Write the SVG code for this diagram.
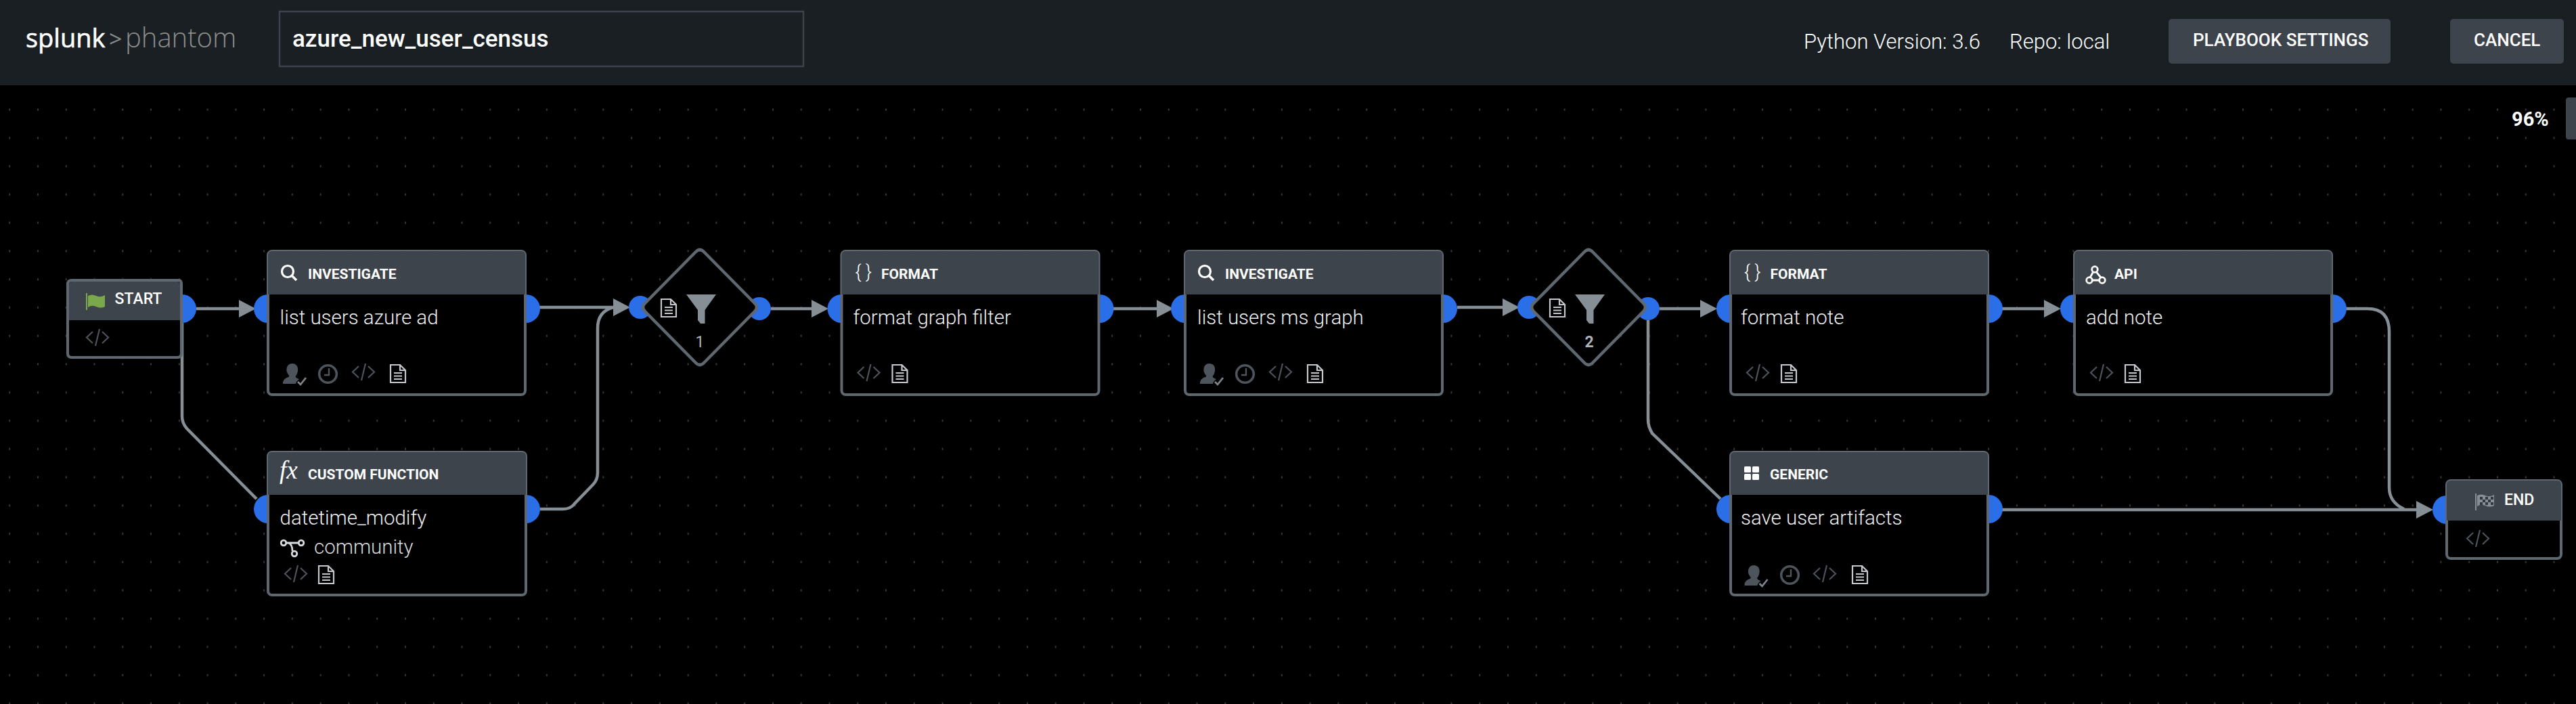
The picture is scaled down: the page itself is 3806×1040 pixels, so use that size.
<svg xmlns="http://www.w3.org/2000/svg" width="3806" height="1040" viewBox="0 0 3806 1040">
<style>
text{font-family:Roboto,"Liberation Sans",sans-serif}
.hd{font-size:21px;font-weight:700;fill:#fff}
.bd{font-size:29.500px;font-weight:300;fill:#eceef0}
.tt{font-size:26px;font-weight:500;fill:#fff}
.logo{font-size:40px;font-family:"Open Sans",sans-serif}
.port{fill:#2b6fe8}
.box{fill:#000;stroke:#5f6771;stroke-width:4}
.head{fill:#3e444c}
.edge{fill:none;stroke:#868e96;stroke-width:4.500}
.code{fill:none;stroke:#4d535b;stroke-width:2.200}
.doc{fill:none;stroke:#c4c8cc;stroke-width:2.200}
.dim{fill:#4d545c}
.btn{fill:#3e444c}
.dia{fill:#000;stroke:#5f6771;stroke-width:4.500}
</style>
<defs>
<pattern id="dots" patternUnits="userSpaceOnUse" x="14.200" y="36.700" width="41.770" height="41.770">
<rect x="-1" y="-1.500" width="2" height="3" fill="#3a3a3a"/><rect x="40.770" y="-1.500" width="2" height="3" fill="#3a3a3a"/>
<rect x="-1" y="40.270" width="2" height="3" fill="#3a3a3a"/><rect x="40.770" y="40.270" width="2" height="3" fill="#3a3a3a"/>
</pattern>
<marker id="arr" markerUnits="userSpaceOnUse" markerWidth="25" markerHeight="26" refX="0" refY="13" orient="auto">
<path d="M0 0L25 13L0 26z" fill="#868e96"/>
</marker>
<g id="i-code" class="code"><path d="M10 4L1 12.500L10 21M24 4L33 12.500L24 21M20 0L14 25"/></g>
<g id="i-doc" class="doc"><path d="M1 1H15L23 9V27H1zM15 1V9H23M6 13H18M6 17.500H18M6 22H18"/></g>
<g id="i-clock"><circle cx="14.500" cy="14.500" r="12.800" fill="none" stroke="#4d545c" stroke-width="3.600"/><path d="M16 6V16H9" fill="none" stroke="#4d545c" stroke-width="2.400"/></g>
<g id="i-user"><path class="dim" d="M14 0C20 0 23 5 22 11C21.500 15 20 17 18.500 19C19 21 21 22 24 23L20 27L19 30H0C0 25 2 22 8 20C9.500 19.500 9.500 18 8.500 17C6 14 5 11 5.500 8C6 3 9 0 14 0z"/><path d="M22 27L26 31L34 21" fill="none" stroke="#7d848b" stroke-width="2.800"/></g>
<g id="i-q"><circle cx="10" cy="10" r="8.500" fill="none" stroke="#fff" stroke-width="3.200"/><path d="M16 16L23 23" stroke="#fff" stroke-width="3.600"/></g>
<path id="big-hd" class="head" d="M2 66V8Q2 2 8 2H376Q382 2 382 8V66z"/>
<path id="funnel" fill="#868e96" d="M0 0H44L27.500 23V43H21L17 38V23z"/>
</defs>

<rect width="3806" height="1040" fill="#000"/>
<rect width="3806" height="1040" fill="url(#dots)"/>

<g id="toolbar">
<rect width="3806" height="126" fill="#1a1f24"/>
<text class="logo" x="38" y="70" font-weight="400" fill="#fff" style="font-size:38px;stroke:#fff;stroke-width:.6px">splunk</text>
<text class="logo" x="161" y="70" font-weight="400" fill="#8b8d8b" style="font-size:34px">&gt;</text>
<text class="logo" x="185" y="70" font-weight="300" fill="#8b8d8b">phantom</text>
<rect x="413" y="17" width="774" height="81" fill="none" stroke="#3c4249" stroke-width="2.500"/>
<text x="432" y="69" font-size="35" font-weight="500" fill="#fff">azure_new_user_census</text>
<text x="2665" y="72" font-size="31" font-weight="300" fill="#fff">Python Version: 3.6</text>
<text x="2969" y="72" font-size="31" font-weight="300" fill="#fff">Repo: local</text>
<rect class="btn" x="3204" y="28" width="328" height="66" rx="5"/>
<text class="tt" x="3240" y="68">PLAYBOOK SETTINGS</text>
<rect class="btn" x="3620" y="28" width="168" height="66" rx="5"/>
<text class="tt" x="3655" y="68">CANCEL</text>
<text x="3711" y="186" font-size="29" font-weight="700" fill="#fff">96%</text>
<rect class="btn" x="3791" y="144" width="20" height="62" rx="4"/>
</g>

<g id="connectors">
<path class="edge" marker-end="url(#arr)" d="M290 456H353"/>
<path class="edge" d="M269 477V615Q269 625 276 633L379 737"/>
<path class="edge" marker-end="url(#arr)" d="M797 454H906"/>
<path class="edge" d="M798 752H832Q843 752 849 744L876 716Q883 709 883 698V485Q883 460 906 454"/>
<path class="edge" marker-end="url(#arr)" d="M1139 456H1199"/>
<path class="edge" marker-end="url(#arr)" d="M1645 456H1709"/>
<path class="edge" marker-end="url(#arr)" d="M2153 454H2220"/>
<path class="edge" marker-end="url(#arr)" d="M2452 456H2512"/>
<path class="edge" d="M2435 473V620Q2435 630 2441 640L2542 737"/>
<path class="edge" marker-end="url(#arr)" d="M2958 456H3020"/>
<path class="edge" d="M3466 456H3498Q3530 456 3530 490V720Q3530 742 3552 752"/>
<path class="edge" marker-end="url(#arr)" d="M2958 753H3570"/>
</g>

<g id="start" transform="translate(98,412)">
<circle class="port" cx="171" cy="44" r="21"/>
<path class="box" d="M2 8Q2 2 8 2H166Q170 2 170 8V110Q170 116 164 116H8Q2 116 2 110z"/>
<path class="head" d="M4 61V8Q4 4 8 4H164Q168 4 168 8V61z"/>
<path d="M30 21V46" stroke="#7ba84a" stroke-width="2"/>
<path d="M32 25Q38 22 44 25T57 24V41Q51 44 44 41T32 42z" fill="#7ba84a"/>
<text x="71.500" y="37" font-size="23" font-weight="500" fill="#fff">START</text>
<use href="#i-code" x="29" y="74"/>
</g>

<g id="investigate-1" transform="translate(394,369)">
<circle class="port" cx="2" cy="87" r="21"/><circle class="port" cx="383" cy="87" r="21"/>
<rect class="box" x="2" y="2" width="380" height="212" rx="6"/>
<use href="#big-hd"/>
<use href="#i-q" x="21" y="22"/>
<text class="hd" x="61" y="43">INVESTIGATE</text>
<text class="bd" x="19.500" y="110">list users azure ad</text>
<use href="#i-user" x="24" y="168"/><use href="#i-clock" x="76" y="169"/><use href="#i-code" x="126" y="168"/><use href="#i-doc" x="182" y="169"/>
</g>

<g id="custom-function" transform="translate(394,666)">
<circle class="port" cx="2" cy="86" r="21"/><circle class="port" cx="383" cy="86" r="21"/>
<rect class="box" x="2" y="2" width="381" height="211" rx="6"/>
<path class="head" d="M2 65V8Q2 2 8 2H377Q383 2 383 8V65z"/>
<text x="19" y="41" font-size="37" font-style="italic" style="font-family:'Liberation Serif',serif" fill="#fff">fx</text>
<text class="hd" x="61" y="42">CUSTOM FUNCTION</text>
<text class="bd" x="19.500" y="109">datetime_modify</text>
<g fill="none" stroke="#d8dbde" stroke-width="2.800"><circle cx="25" cy="136" r="3.800"/><circle cx="51" cy="136" r="3.800"/><circle cx="41" cy="152" r="3.800"/><path d="M29 136H47M32 136Q38 138 38 148"/></g>
<text class="bd" x="70" y="152" style="fill:#d8dbde">community</text>
<use href="#i-code" x="26" y="169"/><use href="#i-doc" x="76" y="169"/>
</g>

<g id="filter-1">
<circle class="port" cx="946" cy="454" r="17"/><circle class="port" cx="1122" cy="456" r="17"/>
<path class="dia" d="M1028 372Q1034 366 1040 372L1115 448Q1121 454 1115 460L1040 536Q1034 542 1028 536L953 460Q947 454 953 448z"/>
<use href="#i-doc" x="976" y="441"/>
<use href="#funnel" x="1014" y="435"/>
<text x="1034" y="513" text-anchor="middle" font-size="23" font-weight="400" fill="#aeb3b8">1</text>
</g>

<g id="format-graph-filter" transform="translate(1241.500,369)">
<circle class="port" cx="2" cy="87" r="21"/><circle class="port" cx="383" cy="87" r="21"/>
<rect class="box" x="2" y="2" width="380" height="212" rx="6"/>
<use href="#big-hd"/>
<text x="22" y="42" font-size="27" font-weight="300" fill="#fff">{ }</text>
<text class="hd" x="60.500" y="43">FORMAT</text>
<text class="bd" x="19" y="110">format graph filter</text>
<use href="#i-code" x="25" y="169"/><use href="#i-doc" x="76" y="169"/>
</g>

<g id="investigate-2" transform="translate(1749,369)">
<circle class="port" cx="2" cy="87" r="21"/><circle class="port" cx="383" cy="87" r="21"/>
<rect class="box" x="2" y="2" width="380" height="212" rx="6"/>
<use href="#big-hd"/>
<use href="#i-q" x="21" y="22"/>
<text class="hd" x="61" y="43">INVESTIGATE</text>
<text class="bd" x="20" y="110">list users ms graph</text>
<use href="#i-user" x="24" y="168"/><use href="#i-clock" x="76" y="169"/><use href="#i-code" x="126" y="168"/><use href="#i-doc" x="182" y="169"/>
</g>

<g id="filter-2">
<circle class="port" cx="2259" cy="454" r="17"/><circle class="port" cx="2435" cy="456" r="17"/>
<path class="dia" d="M2341 372Q2347 366 2353 372L2428 448Q2434 454 2428 460L2353 536Q2347 542 2341 536L2266 460Q2260 454 2266 448z"/>
<use href="#i-doc" x="2289" y="441"/>
<use href="#funnel" x="2327" y="435"/>
<text x="2348" y="513" text-anchor="middle" font-size="23" font-weight="700" fill="#aeb3b8">2</text>
</g>

<g id="format-note" transform="translate(2555,369)">
<circle class="port" cx="2" cy="87" r="21"/><circle class="port" cx="383" cy="87" r="21"/>
<rect class="box" x="2" y="2" width="380" height="212" rx="6"/>
<use href="#big-hd"/>
<text x="22" y="42" font-size="27" font-weight="300" fill="#fff">{ }</text>
<text class="hd" x="60.500" y="43">FORMAT</text>
<text class="bd" x="17" y="110">format note</text>
<use href="#i-code" x="25" y="169"/><use href="#i-doc" x="76" y="169"/>
</g>

<g id="add-note" transform="translate(3063,369)">
<circle class="port" cx="2" cy="87" r="21"/><circle class="port" cx="383" cy="87" r="21"/>
<rect class="box" x="2" y="2" width="380" height="212" rx="6"/>
<use href="#big-hd"/>
<g fill="none" stroke="#fff" stroke-width="2.800"><circle cx="32" cy="29" r="4.300"/><circle cx="24" cy="45" r="4.300"/><circle cx="43" cy="45" r="4.300"/><path d="M29.500 33L25 41M34.500 33L41 41M29 45H38"/></g>
<text class="hd" x="61" y="43">API</text>
<text class="bd" x="19" y="110">add note</text>
<use href="#i-code" x="25" y="169"/><use href="#i-doc" x="76" y="169"/>
</g>

<g id="generic" transform="translate(2555,666)">
<circle class="port" cx="2" cy="86" r="21"/><circle class="port" cx="383" cy="86" r="21"/>
<rect class="box" x="2" y="2" width="380" height="211" rx="6"/>
<path class="head" d="M2 65V8Q2 2 8 2H376Q382 2 382 8V65z"/>
<g fill="#fff"><rect x="22" y="23" width="10" height="9" rx="1.500"/><rect x="34" y="23" width="10" height="9" rx="1.500"/><rect x="22" y="34" width="10" height="9" rx="1.500"/><rect x="34" y="34" width="10" height="9" rx="1.500"/></g>
<text class="hd" x="60" y="42">GENERIC</text>
<text class="bd" x="17" y="109">save user artifacts</text>
<use href="#i-user" x="22.500" y="169"/><use href="#i-clock" x="75" y="169"/><use href="#i-code" x="124" y="169"/><use href="#i-doc" x="181" y="169"/>
</g>

<g id="end" transform="translate(3613,708)">
<circle class="port" cx="2" cy="45" r="21"/>
<rect class="box" x="2" y="2" width="169" height="115" rx="6"/>
<path class="head" d="M2 61V8Q2 2 8 2H165Q171 2 171 8V61z"/>
<path d="M45 21V46" stroke="#868e96" stroke-width="2"/>
<path d="M47 24Q53 21 59 24T72 23V39Q66 42 59 39T47 40z" fill="#868e96"/>
<path d="M51 26H55V30H51zM59 26H63V30H59zM67 26H71V30H67zM55 30H59V34H55zM63 30H67V34H63zM51 34H55V38H51zM59 34H63V38H59zM67 34H71V38H67z" fill="#33383e"/>
<text x="87" y="38" font-size="23" font-weight="500" fill="#fff">END</text>
<use href="#i-code" x="31" y="75"/>
</g>
</svg>
